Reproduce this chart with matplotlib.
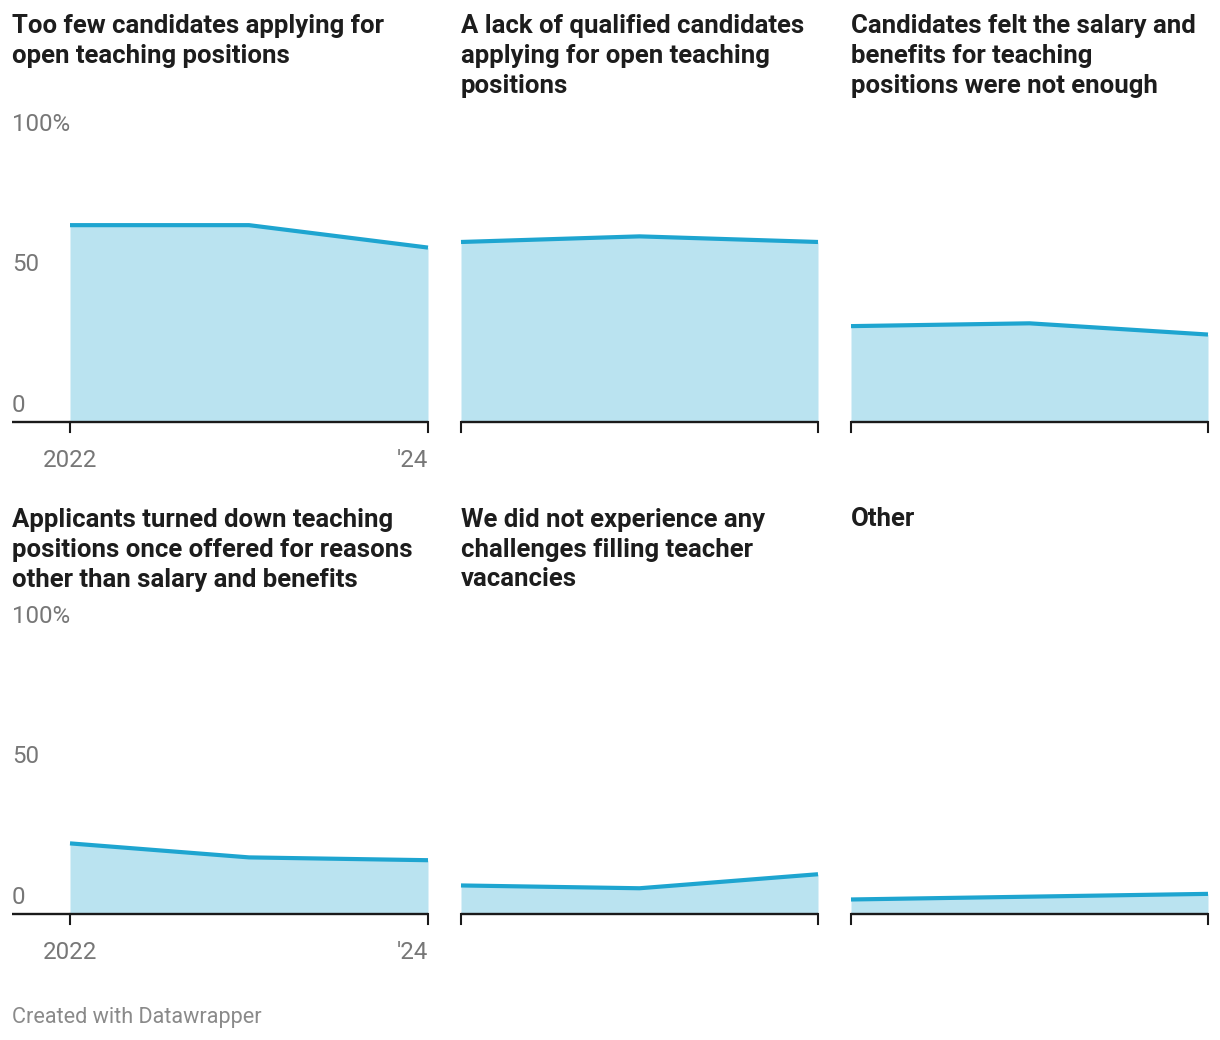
import matplotlib
matplotlib.use('Agg')
import matplotlib.pyplot as plt

# Data (share of respondents, %)
years = [2022, 2023, 2024]
titles = [
    ["Too few candidates applying for", "open teaching positions"],
    ["A lack of qualified candidates", "applying for open teaching", "positions"],
    ["Candidates felt the salary and", "benefits for teaching", "positions were not enough"],
    ["Applicants turned down teaching", "positions once offered for reasons", "other than salary and benefits"],
    ["We did not experience any", "challenges filling teacher", "vacancies"],
    ["Other"],
]
too_few = [70, 70, 62]
lack_qualified = [64, 66, 64]
salary_benefits = [34, 35, 31]
turned_down = [25, 20, 19]
no_challenges = [10, 9, 14]
other = [5, 6, 7]
series = [too_few, lack_qualified, salary_benefits, turned_down, no_challenges, other]

y_ticks = [0, 50, 100]
y_labels = ["0", "50", "100%"]
x_labels = {2022: "2022", 2024: "'24"}

LINE = '#1ea5d0'
FILL = '#bae3f0'
AXIS = '#1a1a1a'
GREY = '#777777'

W, H = 1220, 1040
plt.rcParams['font.family'] = ['Roboto', 'DejaVu Sans']
fig = plt.figure(figsize=(W / 100, H / 100), dpi=100)

# pixel layout
col_x = [(70, 428), (461, 818), (851, 1208)]
title_x = [12, 461, 851]
row_base = [421.5, 913.5]   # y pixel of 0
row_top = [141, 633]        # y pixel of 100
title_base = [33.5, 526.5]

for i, vals in enumerate(series):
    r, c = divmod(i, 3)
    x0, x1 = col_x[c]
    ax = fig.add_axes([x0 / W, 1 - row_base[r] / H, (x1 - x0) / W,
                       (row_base[r] - row_top[r]) / H])
    ax.set_xlim(years[0], years[-1])
    ax.set_ylim(0, 100)
    ax.axis('off')

    ax.fill_between(years, vals, 0, color=FILL, lw=0)
    ax.plot(years, vals, color=LINE, lw=3, solid_capstyle='butt', clip_on=False)

    # baseline, extends under the y labels in the first column
    left = (title_x[c] - x0) / (x1 - x0) if c == 0 else 0
    ax.plot([left, 1], [0, 0], color=AXIS, lw=1.7,
            transform=ax.get_yaxis_transform(), clip_on=False, solid_capstyle='butt')
    for yr in (years[0], years[-1]):
        ax.plot([yr, yr], [0, -10 / 2.805], color=AXIS, lw=1.5, clip_on=False)

    if c == 0:
        for t, lab in zip(y_ticks, y_labels):
            ax.annotate(lab, xy=(left, t), xycoords=('axes fraction', 'data'),
                        xytext=(0, 7.2), textcoords='offset points',
                        ha='left', va='baseline', fontsize=17.4, color=GREY)
        for yr, lab in x_labels.items():
            ax.annotate(lab, xy=(yr, 0), xycoords='data',
                        xytext=(0, -32.5), textcoords='offset points',
                        ha='center' if yr == years[0] else 'right',
                        va='baseline', fontsize=17.4, color=GREY)

    for k, line in enumerate(titles[i]):
        fig.text(title_x[c] / W, 1 - (title_base[r] + 30 * k) / H, line,
                 ha='left', va='baseline', fontsize=18.5, fontweight='bold',
                 color='#1d1d1d')

fig.text(12 / W, 1 - 1023 / H, "Created with Datawrapper", ha='left',
         va='baseline', fontsize=15.6, color='#8a8a8a')

fig.savefig('out.png', dpi=100, facecolor='white')
